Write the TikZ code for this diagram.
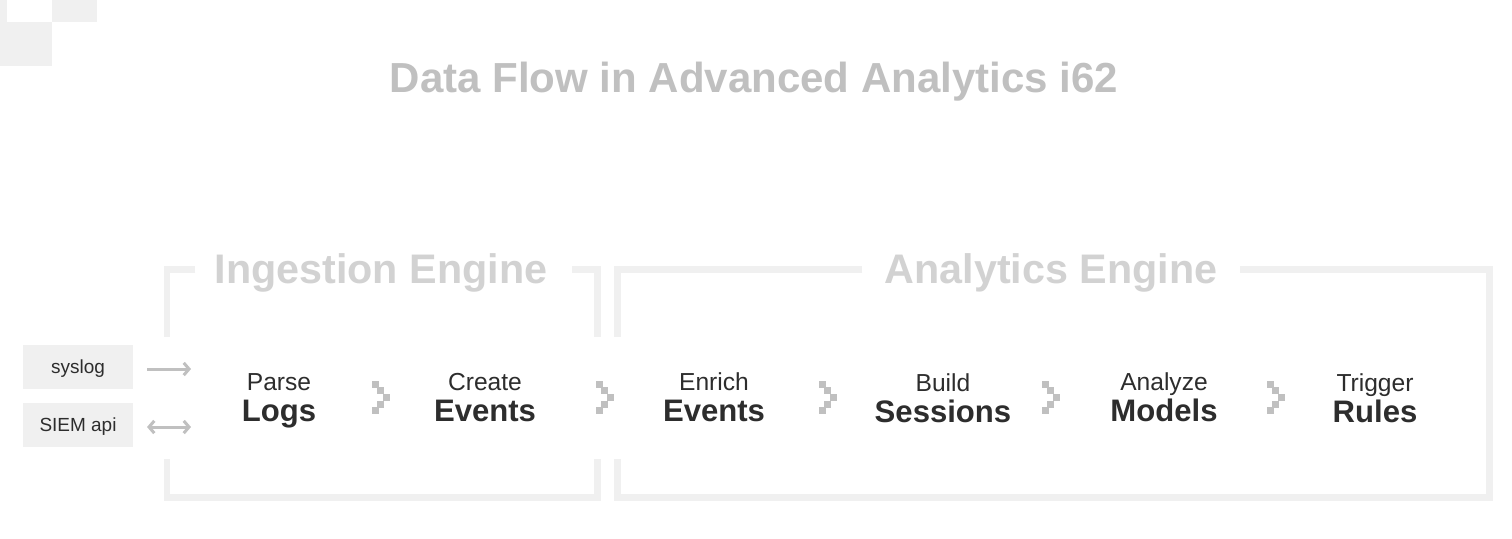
\documentclass[tikz,border=0pt]{standalone}
\usepackage{fontspec}
\setmainfont{Liberation Sans}
\usetikzlibrary{arrows.meta,positioning}
\definecolor{dfframe}{RGB}{240,240,240}
\definecolor{dftitle}{RGB}{192,192,192}
\definecolor{dfengine}{RGB}{210,210,210}
\definecolor{dfchev}{RGB}{192,192,192}
\definecolor{dftext}{RGB}{45,45,45}

\begin{document}
\begin{tikzpicture}[x=0.02cm, y=-0.02cm,
  frame/.style={draw=dfframe, line width=3.98pt},
  enginelabel/.style={font=\fontsize{23.5pt}{28pt}\selectfont\bfseries,
    text=dfengine, inner sep=0pt, anchor=base},
  verbnode/.style={font=\fontsize{14pt}{17pt}\selectfont,
    text=dftext, inner sep=0pt, anchor=base},
  nounnode/.style={font=\fontsize{17.7pt}{21pt}\selectfont\bfseries,
    text=dftext, inner sep=0pt, anchor=base},
  srcnode/.style={fill=dfframe, font=\fontsize{10.8pt}{13pt}\selectfont,
    text=dftext, minimum width=62.6pt, minimum height=25pt, inner sep=0pt,
    text height=1.45ex, text depth=0.1ex},
  arr/.style={draw=dfchev, line width=1.7pt, shorten <=7.8pt},
  chev/.pic={\foreach \dx/\dy in {-7/-13,-2/-7,4/0,-2/7,-7/13}
    \fill[dfchev] (\dx-3.5,\dy-3.5) rectangle ++(7,7);}]
\useasboundingbox[fill=white] (0,0) rectangle (1512,538);
% Corner squares
\fill[dfframe] (52,0) rectangle (97,22);
\fill[dfframe] (0,22) rectangle (52,66);
\fill[dfframe] (0,0) rectangle (7,22);
% Title
\node[font=\fontsize{23.9pt}{28pt}\selectfont\bfseries, text=dftitle,
  inner sep=0pt, anchor=base] (title) at (754,92)
  {Data Flow in Advanced Analytics i62};
% Engine frames
\draw[frame] (195,269) -- (167,269) -- (167,337);
\draw[frame] (572,269) -- (597,269) -- (597,337);
\draw[frame] (167,459) -- (167,497) -- (597,497) -- (597,459);
\draw[frame] (862,269) -- (617,269) -- (617,337);
\draw[frame] (1240,269) -- (1489,269) -- (1489,497) -- (617,497) -- (617,459);
\node[enginelabel] (ingest) at (381,283) {Ingestion Engine};
\node[enginelabel] (analytics) at (1051,283) {Analytics Engine};
% Sources
\node[srcnode] (syslog) at (78,367) {syslog};
\node[srcnode] (siem) at (78,425) {SIEM api};
\coordinate (in1) at (191,369);
\coordinate (in2) at (191,427);
\draw[arr, -{Straight Barb[length=3pt,width=7pt]}] (syslog.east |- in1) -- (in1);
\draw[arr, {Straight Barb[length=3pt,width=7pt]}-{Straight Barb[length=3pt,width=7pt]}]
  (siem.east |- in2) -- (in2);
% Steps
\node[verbnode] (parse) at (279,390) {Parse};
\node[nounnode] (logs) at (279,421) {Logs};
\node[verbnode] (create) at (485,390) {Create};
\node[nounnode] (events1) at (485,421) {Events};
\node[verbnode] (enrich) at (714,390) {Enrich};
\node[nounnode] (events2) at (714,421) {Events};
\node[verbnode] (build) at (943,391) {Build};
\node[nounnode] (sessions) at (943,422) {Sessions};
\node[verbnode] (analyze) at (1164,390) {Analyze};
\node[nounnode] (models) at (1164,421) {Models};
\node[verbnode] (trigger) at (1375,391) {Trigger};
\node[nounnode] (rules) at (1375,422) {Rules};
% Chevrons
\pic at (382,397) {chev};
\pic at (606,397) {chev};
\pic at (829,397) {chev};
\pic at (1052,397) {chev};
\pic at (1277,397) {chev};
\end{tikzpicture}
\end{document}
